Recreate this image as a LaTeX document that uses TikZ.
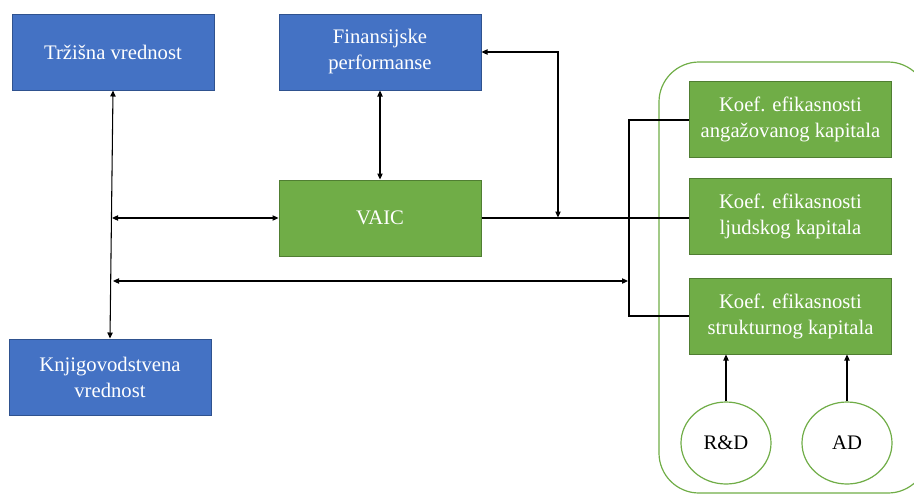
\documentclass[tikz,border=0pt]{standalone}
\usepackage{fontspec}
\setmainfont{Liberation Serif}
\usetikzlibrary{shapes.geometric,arrows.meta,calc}
\definecolor{bluefill}{HTML}{4472C4}
\definecolor{blueline}{HTML}{2F528F}
\definecolor{greenfill}{HTML}{70AD47}
\definecolor{greenline}{HTML}{507E32}
\tikzset{
  txt/.style={font=\fontsize{15.5}{19.5}\selectfont, align=center},
  bluebox/.style={txt, rectangle, fill=bluefill, draw=blueline, line width=0.75pt, text=white, minimum width=151.5pt, minimum height=57pt, inner sep=0pt},
  greenbox/.style={txt, rectangle, fill=greenfill, draw=greenline, line width=0.75pt, text=white, minimum width=152pt, minimum height=57pt, inner sep=0pt},
  oval/.style={txt, ellipse, draw=greenfill, fill=white, line width=0.9pt, minimum width=67.5pt, minimum height=61.5pt, inner sep=0pt},
  conn/.style={line width=0.8pt, black},
  both/.style={conn, {Triangle[length=4.5pt,width=4pt]}-{Triangle[length=4.5pt,width=4pt]}},
  toend/.style={conn, -{Triangle[length=4.5pt,width=4pt]}},
  container/.style={draw=greenfill, line width=0.9pt, rounded corners=30pt}
}
\begin{document}
\begin{tikzpicture}[x=0.75pt, y=-0.75pt]
\useasboundingbox (0,0) rectangle (914,494);
\clip (0,0) rectangle (914,494);
\draw[container] (659,62) rectangle (928,493);

\node[bluebox] (tv) at (113,52) {Tržišna vrednost};
\node[bluebox] (fp) at (380,52) {Finansijske\\performanse};
\node[greenbox, minimum width=151.5pt] (vaic) at (380,218) {VAIC};
\node[bluebox] (kv) at (110,377) {Knjigovodstvena\\vrednost};
\node[greenbox] (ka) at (790.5,119) {Koef. efikasnosti\\angažovanog kapitala};
\node[greenbox] (kl) at (790.5,216.5) {Koef. efikasnosti\\ljudskog kapitala};
\node[greenbox] (ks) at (790.5,316) {Koef. efikasnosti\\strukturnog kapitala};
\node[oval] (rd) at (726,443) {R\&D};
\node[oval] (ad) at (847,443) {AD};

\coordinate (j1) at (112,218);
\coordinate (j2) at (113,281);
\coordinate (bt) at (629,120);
\coordinate (bb) at (629,316);
\coordinate (b2) at (628,281);
\coordinate (fb) at (558,217.5);

\draw[both] (tv.south) -- (kv.north);
\draw[both] (j1) -- (vaic.west);
\draw[both] (j2) -- (b2);
\draw[both] (fp.south) -- (vaic.north);
\draw[conn] (vaic.east) -- (vaic.east -| kl.west);
\draw[both] (fp.east) -| (fb);
\draw[conn] (ka.west |- bt) -- (bt) -- (bb) -- (ks.west |- bb);
\draw[toend] (rd.north) -- (rd.north |- ks.south);
\draw[toend] (ad.north) -- (ad.north |- ks.south);
\end{tikzpicture}
\end{document}
